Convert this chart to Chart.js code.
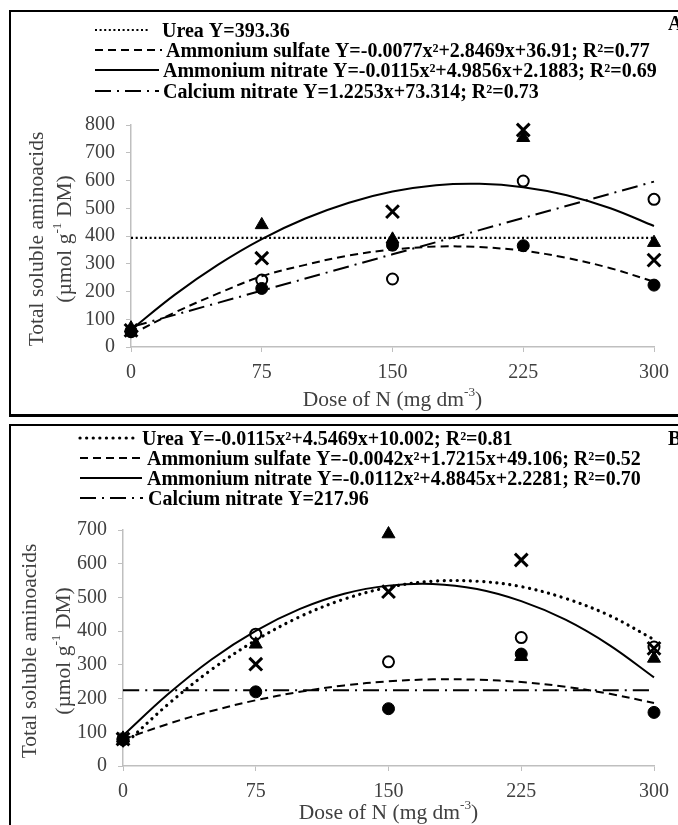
<!DOCTYPE html>
<html><head><meta charset="utf-8">
<script src="https://cdn.jsdelivr.net/npm/chart.js@4/dist/chart.umd.min.js"></script>
<style>
html,body{margin:0;padding:0;background:#fff;width:678px;height:825px;overflow:hidden;position:relative}
.frame{position:absolute;box-sizing:border-box;border:2px solid #000;}
canvas{position:absolute;left:0;top:0}
</style></head><body>
<div class="frame" style="left:9px;top:10px;width:720px;height:407px;border-bottom-width:3px"></div>
<div class="frame" style="left:9px;top:424px;width:720px;height:440px"></div>
<canvas id="cA" width="678" height="825"></canvas>
<canvas id="cB" width="678" height="825"></canvas>
<script>
// ---------- data ----------
const doses = [0, 75, 150, 225, 300];
const xTicks = [0, 75, 150, 225, 300];
const yTicksA = [0, 100, 200, 300, 400, 500, 600, 700, 800];
const yTicksB = [0, 100, 200, 300, 400, 500, 600, 700];
const seriesNames = ['Urea', 'Ammonium sulfate', 'Ammonium nitrate', 'Calcium nitrate'];

// Panel A observed means
const ureaA     = [60, 320, 488, 782, 313];
const sulfateA  = [58, 211, 367, 365, 223];
const nitrateA  = [68, 440, 388, 754, 376];
const calciumA  = [55, 241, 245, 598, 532];
// Panel A trend lines as drawn
const fitDoses = [0, 25, 50, 75, 100, 125, 150, 175, 200, 225, 250, 275, 300];
const ureaFitDosesA = [0, 300];
const ureaFitA = [393.36, 393.36];
const sulfateFitA = [45, 124, 193, 255, 296, 330, 351, 362, 360, 347, 321, 284, 235];
const nitrateFitA = [62, 188, 297, 389, 463, 520, 560, 583, 588, 576, 547, 500, 436];
const calciumFitDosesA = [0, 300];
const calciumFitA = [72, 596];

// Panel B observed means
const ureaB     = [80, 302, 517, 611, 349];
const sulfateB  = [80, 220, 170, 332, 159];
const nitrateB  = [82, 361, 688, 324, 319];
const calciumB  = [78, 391, 309, 381, 353];
// Panel B trend lines as drawn
const ureaFitB = [60, 181, 286, 373, 443, 495, 530, 548, 548, 532, 497, 446, 375];
const sulfateFitB = [79, 124, 163, 195, 220, 239, 251, 257, 256, 249, 235, 214, 187];
const nitrateFitB = [90, 211, 316, 401, 466, 511, 535, 540, 525, 489, 434, 358, 263];
const calciumFitDosesB = [0, 298];
const calciumFitB = [225, 225];

const legendA = [
  'Urea Y=393.36',
  'Ammonium sulfate Y=-0.0077x\u00B2+2.8469x+36.91; R\u00B2=0.77',
  'Ammonium nitrate Y=-0.0115x\u00B2+4.9856x+2.1883; R\u00B2=0.69',
  'Calcium nitrate Y=1.2253x+73.314; R\u00B2=0.73'
];
const legendB = [
  'Urea Y=-0.0115x\u00B2+4.5469x+10.002; R\u00B2=0.81',
  'Ammonium sulfate Y=-0.0042x\u00B2+1.7215x+49.106; R\u00B2=0.52',
  'Ammonium nitrate Y=-0.0112x\u00B2+4.8845x+2.2281; R\u00B2=0.70',
  'Calcium nitrate Y=217.96'
];
const yTitle1 = 'Total soluble aminoacids';
const yTitle2 = [['(\u00B5mol g', false], ['-1', true], [' DM)', false]];
const xTitle = [['Dose of N (mg dm', false], ['-3', true], [')', false]];

// ---------- helpers ----------
const SERIF = '"Liberation Serif", "Times New Roman", serif';
const pts = (xs, ys) => xs.map((x, i) => ({x: x, y: ys[i]}));

function markerSet(u, s, n, c) {
  return [
    {label: seriesNames[0], data: pts(doses, u), pointStyle: 'crossRot', pointRadius: 9, borderWidth: 3,
     borderColor: '#000', backgroundColor: '#000', showLine: false, clip: false},
    {label: seriesNames[1], data: pts(doses, s), pointStyle: 'circle', pointRadius: 6, borderWidth: 1,
     borderColor: '#000', backgroundColor: '#000', showLine: false, clip: false},
    {label: seriesNames[2], data: pts(doses, n), pointStyle: 'triangle', pointRadius: 7.5, borderWidth: 1,
     borderColor: '#000', backgroundColor: '#000', showLine: false, clip: false},
    {label: seriesNames[3], data: pts(doses, c), pointStyle: 'circle', pointRadius: 5.5, borderWidth: 2,
     borderColor: '#000', backgroundColor: 'rgba(255,255,255,0)', showLine: false, clip: false}
  ];
}
function lineDs(xs, ys, dash, w, cap) {
  return {data: pts(xs, ys), showLine: true, pointRadius: 0, pointHoverRadius: 0, borderColor: '#000',
          borderWidth: w, borderDash: dash, borderCapStyle: cap || 'butt', tension: 0.35, fill: false, clip: false};
}

function drawParts(ctx, parts, x, y, size) {
  let total = 0;
  const widths = parts.map(p => {
    ctx.font = (p[1] ? size * 0.62 : size) + 'px ' + SERIF;
    const w = ctx.measureText(p[0]).width; total += w; return w;
  });
  let cx = x - total / 2;
  parts.forEach((p, i) => {
    ctx.font = (p[1] ? size * 0.62 : size) + 'px ' + SERIF;
    ctx.fillText(p[0], cx, p[1] ? y - size * 0.36 : y);
    cx += widths[i];
  });
}

function decoPlugin(d) {
  return {
    id: 'deco' + d.letter,
    afterDraw(chart) {
      const ctx = chart.ctx, a = chart.chartArea;
      ctx.save();
      d.legend.forEach((txt, i) => {
        const y = d.rowY[i];
        const st = d.sampleStyles[i];
        ctx.beginPath();
        ctx.setLineDash(st.dash);
        ctx.lineWidth = st.w;
        ctx.lineCap = st.cap;
        ctx.strokeStyle = '#000';
        ctx.moveTo(d.sampleX[i][0], y);
        ctx.lineTo(d.sampleX[i][1], y);
        ctx.stroke();
        ctx.setLineDash([]);
        ctx.font = 'bold 20px ' + SERIF;
        ctx.fillStyle = '#000';
        ctx.textAlign = 'left';
        ctx.textBaseline = 'alphabetic';
        ctx.fillText(txt, d.textX[i], y + 6.5);
      });
      ctx.font = 'bold 20px ' + SERIF;
      ctx.fillText(d.letter, 668, d.letterY);
      ctx.fillStyle = '#404040';
      ctx.textAlign = 'left';
      ctx.textBaseline = 'middle';
      const cy = (a.top + a.bottom) / 2 + 3;
      ctx.save();
      ctx.translate(d.yTitleX[0], cy);
      ctx.rotate(-Math.PI / 2);
      drawParts(ctx, [[yTitle1, false]], 0, 0, 21.5);
      ctx.restore();
      ctx.save();
      ctx.translate(d.yTitleX[1], cy);
      ctx.rotate(-Math.PI / 2);
      drawParts(ctx, yTitle2, 0, 0, 21.5);
      ctx.restore();
      drawParts(ctx, xTitle, (a.left + a.right) / 2, a.bottom + d.xTitleOff, 21.5);
      ctx.restore();
    }
  };
}

function makeChart(id, p) {
  const axisCommon = (ticks, min, max) => ({
    type: 'linear', min: min, max: max,
    afterBuildTicks: (s) => { s.ticks = ticks.map(v => ({value: v})); },
    grid: {display: true, drawOnChartArea: false, drawTicks: true, tickLength: 5, color: '#bfbfbf', lineWidth: 1},
    border: {display: true, color: '#bfbfbf', width: 1.5},
    ticks: {font: {family: SERIF, size: 20}, color: '#404040', autoSkip: false, maxRotation: 0}
  });
  const xs = axisCommon(xTicks, 0, 300);
  xs.ticks.padding = 9;
  xs.afterFit = (s) => { s.height = 50; };
  const ys = axisCommon(p.yTicks, 0, p.yTicks[p.yTicks.length - 1]);
  ys.ticks.padding = 11;
  ys.afterFit = (s) => { s.width = 50; };
  return new Chart(document.getElementById(id), {
    type: 'scatter',
    data: {datasets: p.datasets},
    options: {
      responsive: false, animation: false, events: [],
      layout: {padding: p.padding},
      plugins: {legend: {display: false}, tooltip: {enabled: false}},
      scales: {x: xs, y: ys}
    },
    plugins: [decoPlugin(p.deco)]
  });
}

const dotA = {dash: [2, 2.6], w: 2.2, cap: 'butt'};
const dotB = {dash: [0.1, 6.5], w: 3.2, cap: 'round'};
const dashS = {dash: [8, 5], w: 2, cap: 'butt'};
const solidS = {dash: [], w: 2, cap: 'butt'};
const dashDot = {dash: [16, 6, 2, 6], w: 2, cap: 'butt'};

makeChart('cA', {
  yTicks: yTicksA,
  padding: {left: 81, right: 23, top: 125, bottom: 428},
  datasets: [
    lineDs(ureaFitDosesA, ureaFitA, dotA.dash, dotA.w, dotA.cap),
    lineDs(fitDoses, sulfateFitA, dashS.dash, 2),
    lineDs(fitDoses, nitrateFitA, [], 2),
    lineDs(calciumFitDosesA, calciumFitA, dashDot.dash, 2),
    ...markerSet(ureaA, sulfateA, nitrateA, calciumA)
  ],
  deco: {
    letter: 'A', letterY: 30, legend: legendA,
    rowY: [30, 50, 70, 91],
    sampleX: [[95, 150], [95, 162], [95, 159], [95, 159]],
    textX: [162, 166, 163, 163],
    sampleStyles: [dotA, dashS, solidS, dashDot],
    yTitleX: [37, 65], xTitleOff: 53
  }
});

makeChart('cB', {
  yTicks: yTicksB,
  padding: {left: 73, right: 23, top: 530, bottom: 9},
  datasets: [
    lineDs(fitDoses, ureaFitB, dotB.dash, dotB.w, dotB.cap),
    lineDs(fitDoses, sulfateFitB, dashS.dash, 2),
    lineDs(fitDoses, nitrateFitB, [], 2),
    lineDs(calciumFitDosesB, calciumFitB, dashDot.dash, 2),
    ...markerSet(ureaB, sulfateB, nitrateB, calciumB)
  ],
  deco: {
    letter: 'B', letterY: 445, legend: legendB,
    rowY: [438, 458, 478, 498],
    sampleX: [[80, 137], [80, 142], [80, 142], [80, 143]],
    textX: [142, 147, 147, 148],
    sampleStyles: [dotB, dashS, solidS, dashDot],
    yTitleX: [30, 64], xTitleOff: 47
  }
});
</script>
</body></html>
